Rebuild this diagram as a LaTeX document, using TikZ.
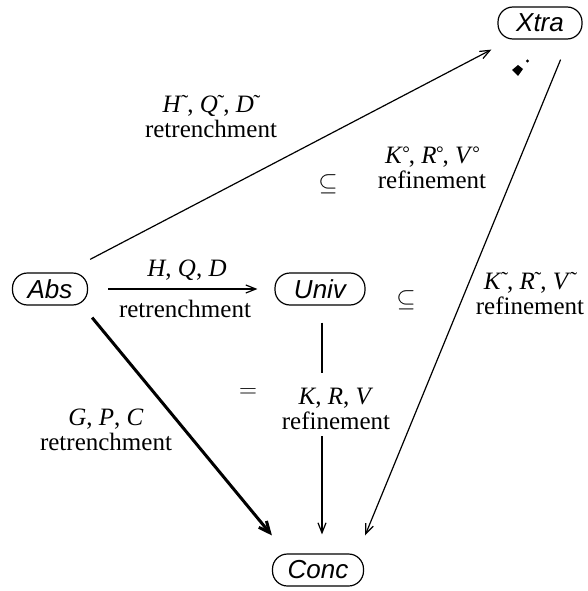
\documentclass[tikz,border=0pt]{standalone}
\usepackage{fontspec}
\setmainfont{Liberation Serif}
\setsansfont{Liberation Sans}
\usetikzlibrary{arrows.meta}
\newcommand{\tld}[1]{\textit{#1}\kern-0.5pt\makebox[6pt][l]{\raisebox{3pt}{\fontsize{21}{21}\selectfont\char"02DC}}}
\newcommand{\crc}[1]{\textit{#1}\kern-0.5pt\makebox[6.5pt][l]{\raisebox{4pt}{\fontsize{19}{19}\selectfont\char"00B0}}}
\begin{document}
\begin{tikzpicture}[x=1pt,y=-1pt,
  box/.style={draw,line width=1.2pt,rounded corners=15pt,minimum height=32pt,inner sep=2pt,font=\fontsize{26}{28}\selectfont\sffamily\itshape},
  lab/.style={align=center,font=\fontsize{25}{25}\selectfont,inner sep=0pt},
  conn/.style={line width=1.2pt},
  arr/.style={conn,-{Straight Barb[length=10pt,width=8pt]}},
  thickarr/.style={line width=3pt,-{Straight Barb[length=11pt,width=10pt]}},
  ]
\useasboundingbox (0,0) rectangle (588,591);
\node[box,minimum width=84pt] (Xtra) at (540,23) {Xtra};
\node[box,minimum width=75pt] (Abs) at (50,289) {Abs};
\node[box,minimum width=90pt] (Univ) at (320,289) {Univ};
\node[box,minimum width=91pt] (Conc) at (318,570) {Conc};

% labels
\node[lab] (l1) at (211,117) {\tld{H}, \tld{Q}, \tld{D}\\retrenchment};
\node[lab] (sub1) at (328,184) {$\subseteq$};
\node[lab] (l2) at (432,168) {\crc{K}, \crc{R}, \crc{V}\\refinement};
\node[lab] (l3a) at (187,270) {\textit{H}, \textit{Q}, \textit{D}};
\node[lab] (l3b) at (185,309) {retrenchment};
\node[lab] (sub2) at (406,300) {$\subseteq$};
\node[lab] (l4) at (530,294) {\tld{K}, \tld{R}, \tld{V}\\refinement};
\node[lab] (eq) at (248,393) {$=$};
\node[lab] (l5) at (336,409) {\textit{K}, \textit{R}, \textit{V}\\refinement};
\node[lab] (l6) at (106,430) {\textit{G}, \textit{P}, \textit{C}\\retrenchment};

% connectors
\draw[arr] ([xshift=2pt,yshift=13pt]Abs.north east) -- ([xshift=-6pt,yshift=-10pt]Xtra.south west);
\draw[arr] ([xshift=20pt]Abs.east) -- ([xshift=-17pt]Univ.west);
\draw[thickarr] ([xshift=4pt,yshift=-12pt]Abs.south east) -- ([yshift=18pt]Conc.north west);
\draw[conn] ([xshift=2pt,yshift=-17pt]Univ.south) -- ([xshift=2pt,yshift=-67pt]Univ.south);
\draw[arr] ([xshift=4pt]Conc.north |- l5.south) ++(0,6) -- ([xshift=4pt,yshift=19pt]Conc.north);
\draw[arr] ([xshift=-22pt,yshift=-20pt]Xtra.south east) -- ([xshift=1pt,yshift=18pt]Conc.north east);

% stray mark
\fill (512,70) -- (518,65) -- (523,69) -- (518,76) -- cycle;
\fill (527.5,61) circle (1.6pt);
\end{tikzpicture}
\end{document}
